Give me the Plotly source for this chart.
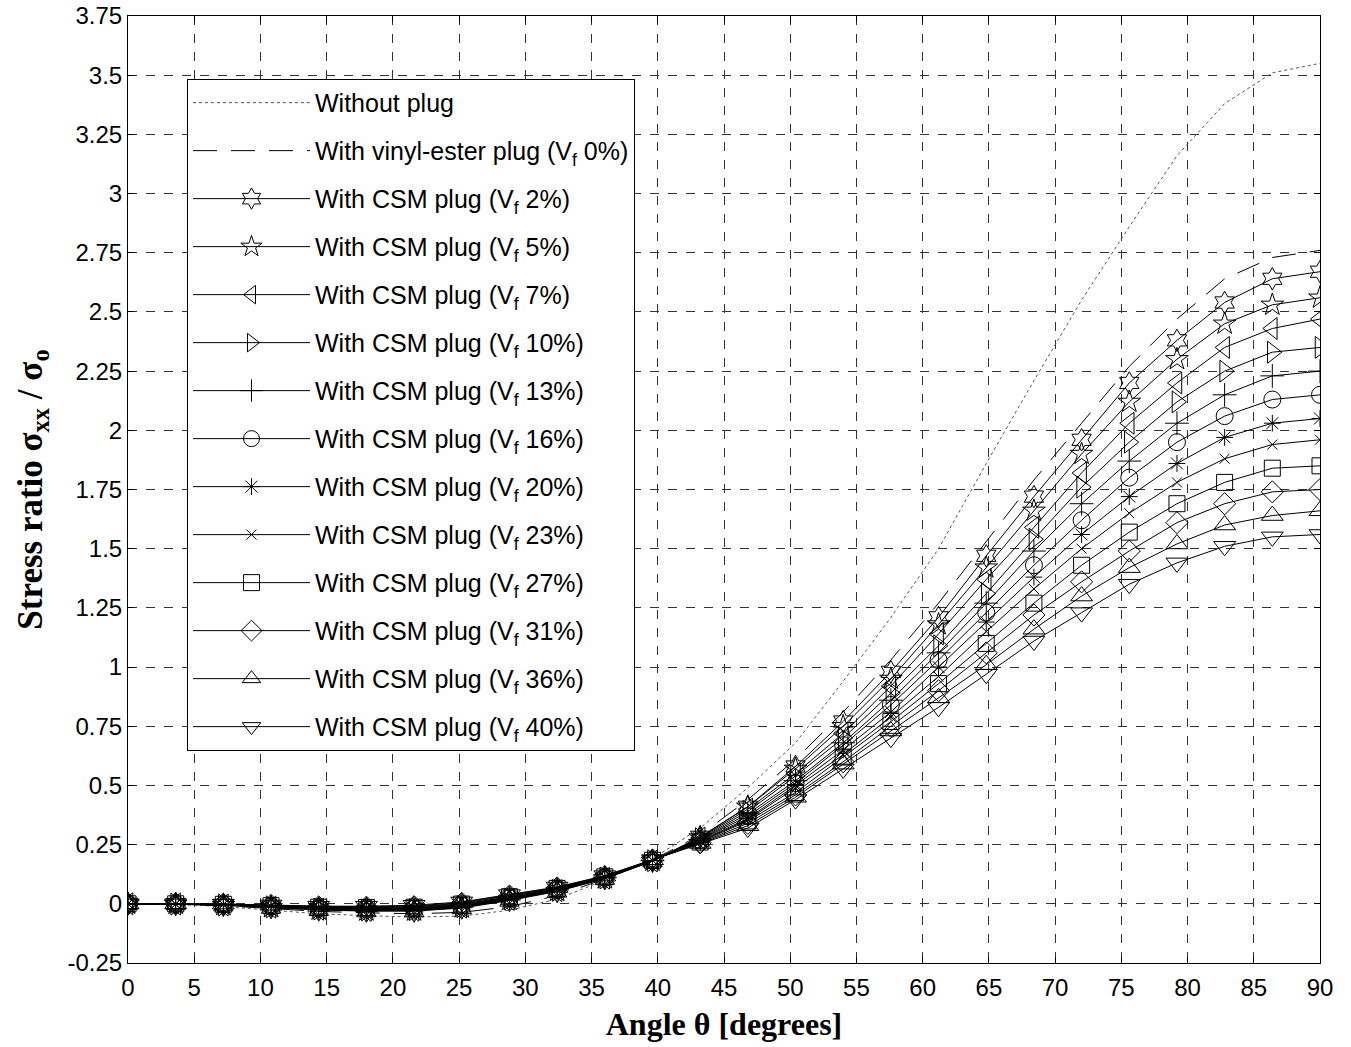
import plotly.graph_objects as go

angles = [0, 3.6, 7.2, 10.8, 14.4, 18, 21.6, 25.2, 28.8, 32.4, 36, 39.6, 43.2,
          46.8, 50.4, 54, 57.6, 61.2, 64.8, 68.4, 72, 75.6, 79.2, 82.8, 86.4, 90]

x_ticks = [0, 5, 10, 15, 20, 25, 30, 35, 40, 45, 50, 55, 60, 65, 70, 75, 80, 85, 90]
y_tickvals = [-0.25, 0, 0.25, 0.5, 0.75, 1, 1.25, 1.5, 1.75, 2, 2.25, 2.5, 2.75, 3, 3.25, 3.5, 3.75]
y_ticktext = ["-0.25", "0", "0.25", "0.5", "0.75", "1", "1.25", "1.5", "1.75", "2",
              "2.25", "2.5", "2.75", "3", "3.25", "3.5", "3.75"]

without_plug = [0, -0.002, -0.012, -0.028, -0.042, -0.05, -0.056, -0.052, -0.027, 0.02, 0.10, 0.19, 0.32,
                0.49, 0.68, 0.94, 1.21, 1.50, 1.86, 2.21, 2.55, 2.86, 3.16, 3.38, 3.51, 3.55]
vinyl_0 = [0, -0.001, -0.008, -0.02, -0.032, -0.038, -0.042, -0.036, -0.012, 0.035, 0.105, 0.185, 0.29,
           0.44, 0.61, 0.81, 1.03, 1.27, 1.53, 1.79, 2.03, 2.27, 2.47, 2.64, 2.73, 2.76]
csm_2 = [0, -0.001, -0.006, -0.016, -0.026, -0.031, -0.031, -0.018, 0.014, 0.052, 0.106, 0.180, 0.283,
         0.41, 0.58, 0.77, 0.98, 1.21, 1.47, 1.72, 1.96, 2.20, 2.38, 2.54, 2.64, 2.67]
csm_5 = [0, -0.001, -0.006, -0.015, -0.025, -0.029, -0.029, -0.016, 0.016, 0.054, 0.107, 0.181, 0.280,
         0.41, 0.57, 0.75, 0.95, 1.18, 1.42, 1.66, 1.90, 2.12, 2.30, 2.45, 2.53, 2.56]
csm_7 = [0, -0.001, -0.005, -0.014, -0.023, -0.028, -0.027, -0.014, 0.018, 0.056, 0.108, 0.181, 0.278,
         0.40, 0.55, 0.72, 0.92, 1.14, 1.37, 1.59, 1.82, 2.03, 2.20, 2.35, 2.43, 2.47]
csm_10 = [0, -0.001, -0.005, -0.013, -0.022, -0.026, -0.025, -0.012, 0.020, 0.057, 0.109, 0.182, 0.275,
          0.39, 0.54, 0.70, 0.89, 1.09, 1.31, 1.54, 1.76, 1.95, 2.12, 2.25, 2.33, 2.35]
csm_13 = [0, -0.001, -0.004, -0.012, -0.020, -0.024, -0.023, -0.010, 0.022, 0.059, 0.110, 0.182, 0.272,
          0.38, 0.52, 0.68, 0.86, 1.06, 1.27, 1.49, 1.69, 1.87, 2.03, 2.15, 2.23, 2.25]
csm_16 = [0, -0.001, -0.004, -0.011, -0.019, -0.022, -0.021, -0.008, 0.024, 0.060, 0.111, 0.183, 0.270,
          0.37, 0.51, 0.67, 0.84, 1.03, 1.23, 1.43, 1.62, 1.80, 1.95, 2.06, 2.13, 2.15]
csm_20 = [0, -0.001, -0.003, -0.010, -0.017, -0.020, -0.019, -0.006, 0.026, 0.062, 0.112, 0.183, 0.267,
          0.36, 0.50, 0.65, 0.81, 1.00, 1.19, 1.38, 1.56, 1.72, 1.86, 1.97, 2.03, 2.05]
csm_23 = [0, -0.001, -0.003, -0.009, -0.016, -0.018, -0.017, -0.004, 0.028, 0.063, 0.113, 0.184, 0.264,
          0.355, 0.49, 0.63, 0.79, 0.96, 1.15, 1.33, 1.50, 1.65, 1.78, 1.88, 1.94, 1.96]
csm_27 = [0, 0, -0.002, -0.008, -0.014, -0.016, -0.014, -0.001, 0.030, 0.065, 0.114, 0.184, 0.261,
          0.35, 0.47, 0.62, 0.77, 0.93, 1.10, 1.27, 1.43, 1.57, 1.69, 1.78, 1.84, 1.85]
csm_31 = [0, 0, -0.002, -0.007, -0.013, -0.014, -0.012, 0.002, 0.033, 0.067, 0.115, 0.185, 0.258,
          0.34, 0.46, 0.60, 0.75, 0.90, 1.06, 1.22, 1.36, 1.49, 1.61, 1.69, 1.74, 1.75]
csm_36 = [0, 0, -0.001, -0.006, -0.011, -0.012, -0.009, 0.005, 0.036, 0.069, 0.117, 0.186, 0.255,
          0.33, 0.45, 0.59, 0.73, 0.87, 1.01, 1.16, 1.30, 1.42, 1.52, 1.60, 1.64, 1.66]
csm_40 = [0, 0, -0.001, -0.005, -0.010, -0.010, -0.006, 0.008, 0.039, 0.071, 0.119, 0.187, 0.252,
          0.32, 0.44, 0.57, 0.70, 0.83, 0.97, 1.11, 1.23, 1.35, 1.44, 1.51, 1.55, 1.56]

csm_labels = ["2%", "5%", "7%", "10%", "13%", "16%", "20%", "23%", "27%", "31%", "36%", "40%"]
csm_series = [csm_2, csm_5, csm_7, csm_10, csm_13, csm_16, csm_20, csm_23, csm_27, csm_31, csm_36, csm_40]
csm_symbols = ["hexagram-open", "star-open", "triangle-left-open", "triangle-right-open",
               "cross-thin-open", "circle-open", "asterisk-open", "x-thin-open",
               "square-open", "diamond-open", "triangle-up-open", "triangle-down-open"]
csm_sizes = [17, 17, 19, 19, 17, 17, 14, 10, 16, 17, 19, 19]

fig = go.Figure()

fig.add_trace(go.Scatter(
    x=angles, y=without_plug, mode="lines", name="Without plug",
    line=dict(color="#555555", width=1, dash="dot"), legendgroup="g0"))
fig.add_trace(go.Scatter(
    x=angles, y=vinyl_0, mode="lines", name="With vinyl-ester plug (V<sub>f</sub> 0%)",
    line=dict(color="black", width=1, dash="24px,14px"), legendgroup="g1"))

for i, (lab, ys, sym, sz) in enumerate(zip(csm_labels, csm_series, csm_symbols, csm_sizes)):
    fig.add_trace(go.Scatter(
        x=angles, y=ys, mode="lines+markers",
        name=f"With CSM plug (V<sub>f</sub> {lab})",
        line=dict(color="black", width=1),
        marker=dict(symbol=sym, size=sz, color="black",
                    line=dict(color="black", width=1)),
        legendgroup=f"c{i}"))

axis_common = dict(
    showline=True, linecolor="black", linewidth=1, mirror="ticks",
    ticks="inside", ticklen=6, tickcolor="black",
    showgrid=True, gridcolor="#333333", gridwidth=1, griddash="dash",
    zeroline=False, automargin=False,
    tickfont=dict(family="Liberation Sans, Arial", size=24, color="black"),
)

fig.update_xaxes(range=[0, 90], tickvals=x_ticks, ticklabelstandoff=3, **axis_common,
                 title=dict(text="<b>Angle θ [degrees]</b>",
                            font=dict(family="Liberation Serif, Times New Roman", size=32, color="black"),
                            standoff=12))
fig.update_yaxes(range=[-0.25, 3.75], tickvals=y_tickvals, ticktext=y_ticktext, **axis_common,
                 title=dict(text="<b>Stress ratio σ<sub>xx</sub> / σ<sub>o</sub></b>",
                            font=dict(family="Liberation Serif, Times New Roman", size=35, color="black"),
                            standoff=14))

fig.update_layout(
    width=1351, height=1047,
    margin=dict(l=128, r=31, t=16, b=84),
    plot_bgcolor="white", paper_bgcolor="white",
    showlegend=True,
    legend=dict(x=0.0495, y=0.9336, xanchor="left", yanchor="top",
                bgcolor="white", bordercolor="black", borderwidth=1,
                font=dict(family="Liberation Sans, Arial", size=25, color="black"),
                traceorder="grouped", tracegroupgap=12.5, itemwidth=117),
)

fig.write_html("out.html")
